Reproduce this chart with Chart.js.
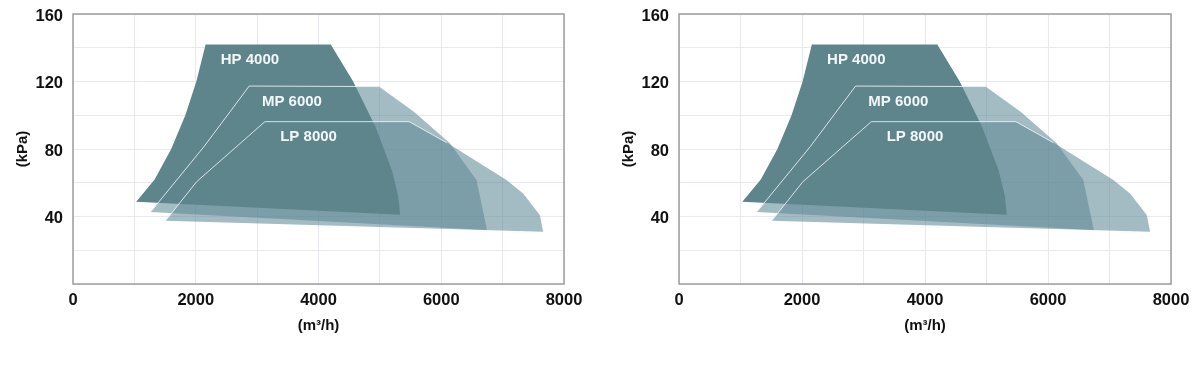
<!DOCTYPE html>
<html>
<head>
<meta charset="utf-8">
<script src="https://cdn.jsdelivr.net/npm/chart.js@4.4.1/dist/chart.umd.min.js"></script>
<style>
  html, body { margin: 0; padding: 0; background: #fff; overflow: hidden; }
  .panel { position: absolute; top: 0; height: 370px; }
</style>
</head>
<body>
<div class="panel" style="left:0;width:600px"><canvas id="left"></canvas></div>
<div class="panel" style="left:606px;width:594px"><canvas id="right"></canvas></div>
<script>
// operating envelopes, flow (m3/h) vs pressure (kPa), traced clockwise
var hpFlow     = [1030, 1330, 1600, 1830, 2010, 2160, 4200, 4565, 4930, 5200, 5300, 5330];
var hpPressure = [48.8, 62,   80,   100,  120,  142,  142,  120,  93,   67,   52,   41];

var mpFlow     = [1265, 2134, 2871,  4984, 5560, 6140, 6574, 6745];
var mpPressure = [42.7, 81.4, 117.3, 117,  102,  83.4, 61.6, 32];

var lpFlow     = [1509, 2014, 3127, 5478, 6100, 7063, 7334, 7606, 7660];
var lpPressure = [37.5, 60.6, 96.2, 96.2, 83.6, 61.6, 53.7, 40.9, 31];

// white edge lines along left and top of MP / LP
var mpEdgeFlow     = [1265, 2134, 2871,  4984];
var mpEdgePressure = [42.7, 81.4, 117.3, 117];
var lpEdgeFlow     = [1509, 2014, 3127, 5478, 6090];
var lpEdgePressure = [37.5, 60.6, 96.2, 96.2, 83.7];

var labelNames    = ['HP 4000', 'MP 6000', 'LP 8000'];
var labelFlow     = [2883, 3567, 3838];
var labelPressure = [133, 108, 87];

function pts(xs, ys) {
  var out = [];
  for (var i = 0; i < xs.length; i++) out.push({x: xs[i], y: ys[i]});
  return out;
}

var tickFont = {family: '"Liberation Sans", Arial, sans-serif', size: 16.5, weight: 'bold'};
var titleFont = {family: '"Liberation Sans", Arial, sans-serif', size: 15, weight: 'bold'};

var boxAndLabels = {
  id: 'boxAndLabels',
  afterDatasetsDraw: function(chart) {
    var ctx = chart.ctx, a = chart.chartArea, x = chart.scales.x, y = chart.scales.y;
    ctx.save();
    ctx.strokeStyle = '#9d9d9d';
    ctx.lineWidth = 1.5;
    ctx.strokeRect(a.left, a.top, a.right - a.left, a.bottom - a.top);
    ctx.fillStyle = '#f3f7f8';
    ctx.font = 'bold 15px "Liberation Sans", Arial, sans-serif';
    ctx.textAlign = 'center';
    ctx.textBaseline = 'middle';
    for (var i = 0; i < labelNames.length; i++) {
      ctx.fillText(labelNames[i], x.getPixelForValue(labelFlow[i]), y.getPixelForValue(labelPressure[i]));
    }
    ctx.restore();
  }
};

function makeChart(id, padRight) {
  var envelope = 'rgba(94, 136, 148, 0.57)';
  var edge = 'rgba(236, 245, 247, 0.85)';
  return new Chart(document.getElementById(id), {
    type: 'line',
    data: {
      datasets: [
        {label: 'mp edge', data: pts(mpEdgeFlow, mpEdgePressure), borderColor: edge, borderWidth: 1, fill: false, pointRadius: 0, tension: 0, order: 1},
        {label: 'lp edge', data: pts(lpEdgeFlow, lpEdgePressure), borderColor: edge, borderWidth: 1, fill: false, pointRadius: 0, tension: 0, order: 2},
        {label: 'HP 4000', data: pts(hpFlow, hpPressure), backgroundColor: '#5e858c', borderColor: 'rgba(0,0,0,0)', borderWidth: 0, fill: 'shape', pointRadius: 0, tension: 0, order: 3},
        {label: 'MP 6000', data: pts(mpFlow, mpPressure), backgroundColor: envelope, borderColor: 'rgba(0,0,0,0)', borderWidth: 0, fill: 'shape', pointRadius: 0, tension: 0, order: 4},
        {label: 'LP 8000', data: pts(lpFlow, lpPressure), backgroundColor: envelope, borderColor: 'rgba(0,0,0,0)', borderWidth: 0, fill: 'shape', pointRadius: 0, tension: 0, order: 5}
      ]
    },
    options: {
      responsive: true,
      maintainAspectRatio: false,
      animation: false,
      layout: {padding: {top: 14, right: padRight, bottom: 0, left: 0}},
      plugins: {legend: {display: false}, tooltip: {enabled: false}},
      scales: {
        x: {
          type: 'linear', min: 0, max: 8000,
          grid: {color: '#e8e8ee', drawTicks: false},
          border: {display: false},
          ticks: {
            stepSize: 1000, autoSkip: false, maxRotation: 0, padding: 7,
            color: '#111', font: tickFont,
            callback: function(v) { return v % 2000 === 0 ? String(v) : ''; }
          },
          title: {display: true, text: '(m³/h)', color: '#111', font: titleFont, padding: {top: 0, bottom: 35}},
          afterFit: function(s) { s.height = 86; s.paddingLeft = 0; s.paddingRight = 0; }
        },
        y: {
          min: 0, max: 160,
          grid: {color: '#e8e8ee', drawTicks: false},
          border: {display: false},
          ticks: {
            stepSize: 20, autoSkip: false, padding: 10, labelOffset: 2,
            color: '#111', font: tickFont,
            callback: function(v) { return (v % 40 === 0 && v !== 0) ? String(v) : ''; }
          },
          title: {display: true, text: '(kPa)', color: '#111', font: titleFont, padding: {top: 14, bottom: 0}},
          afterFit: function(s) { s.width = 73; s.paddingTop = 0; s.paddingBottom = 0; }
        }
      }
    },
    plugins: [boxAndLabels]
  });
}

makeChart('left', 36);
makeChart('right', 29);
</script>
</body>
</html>
